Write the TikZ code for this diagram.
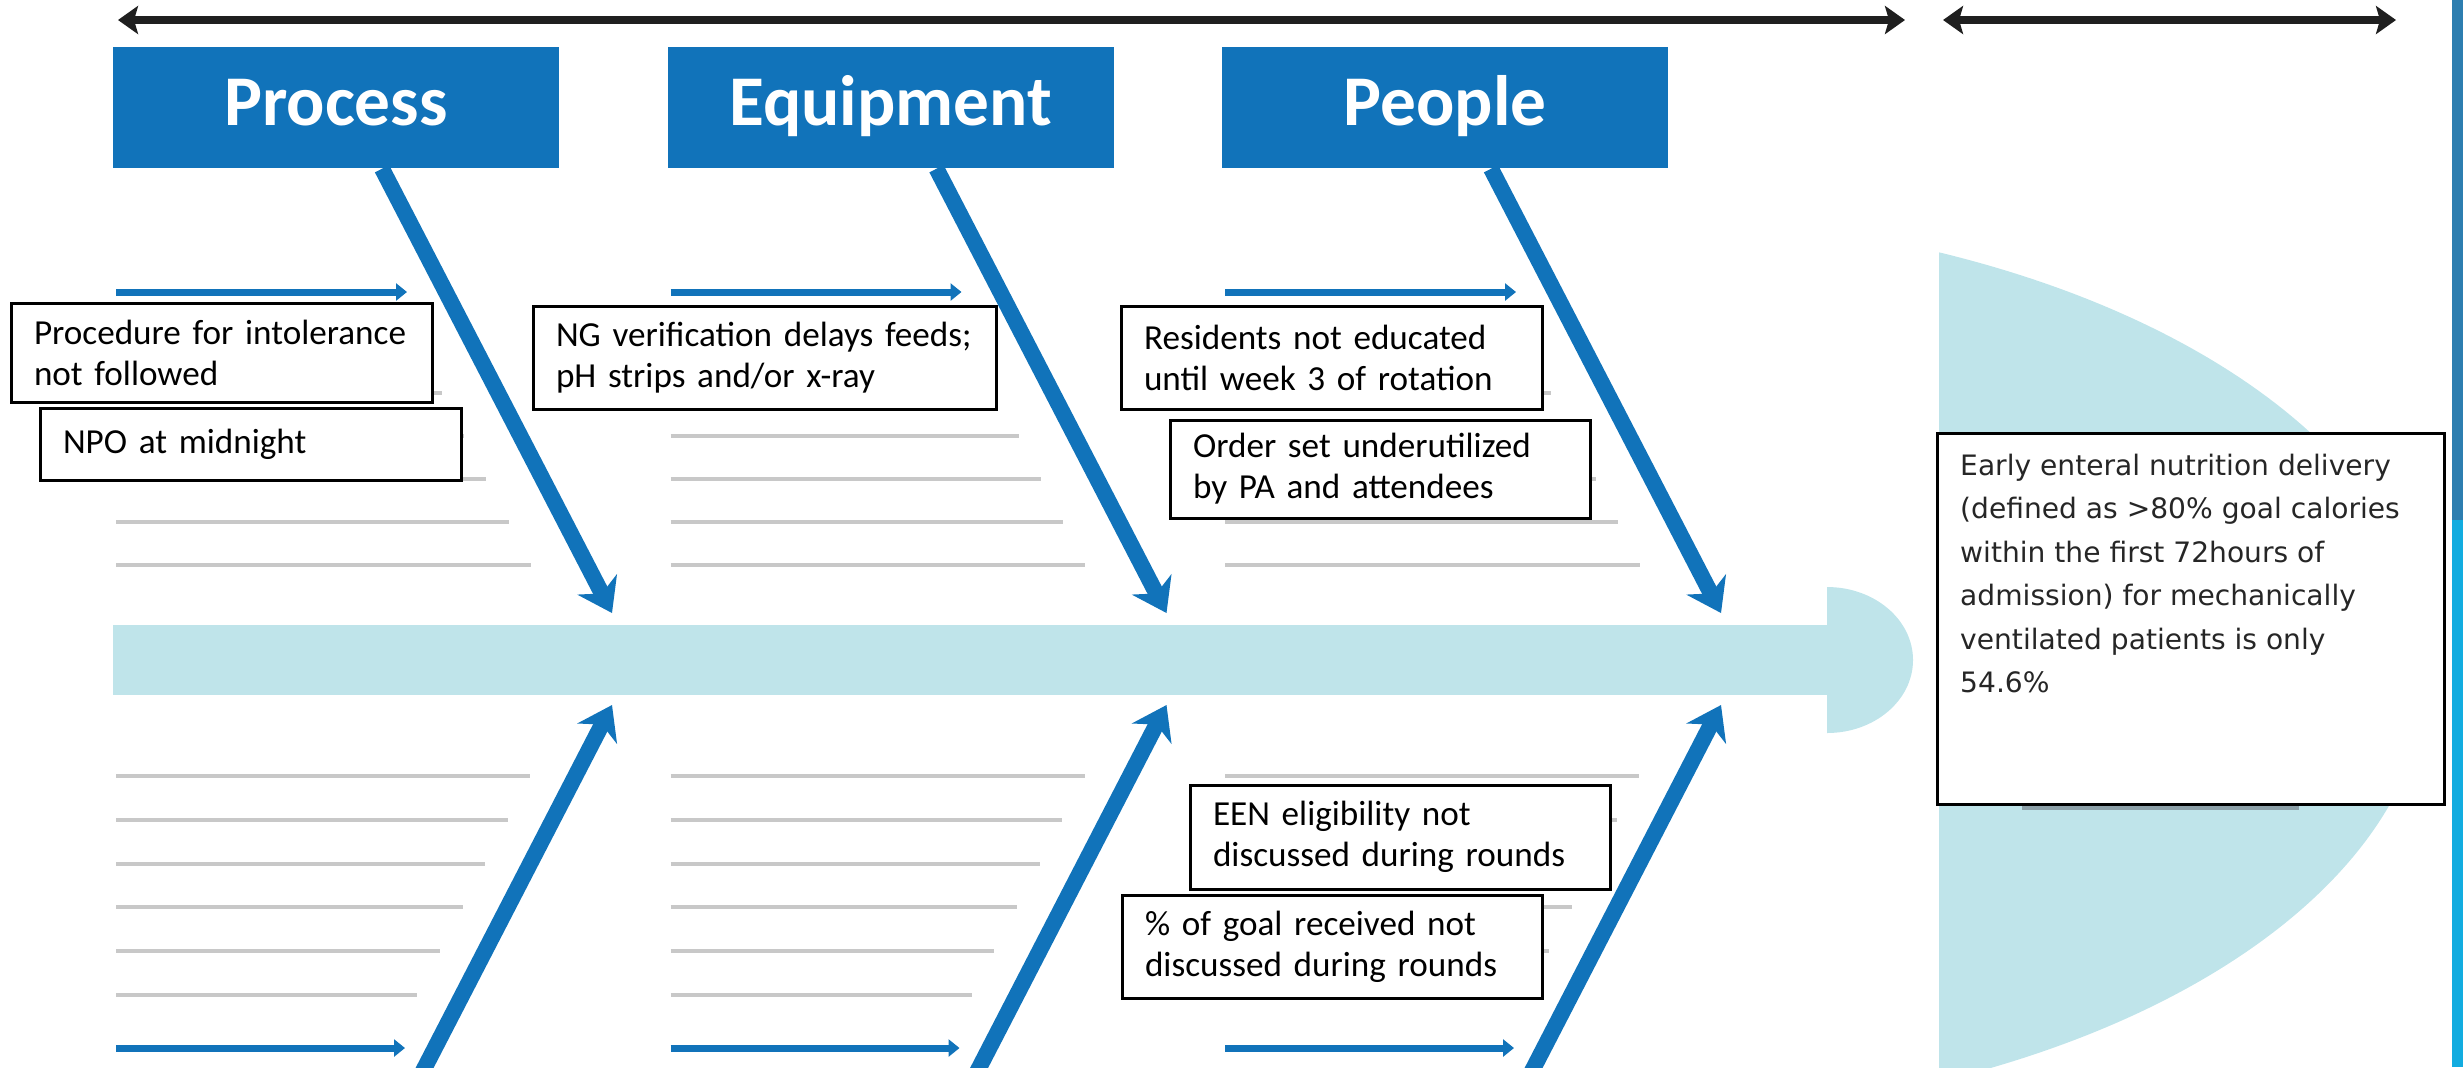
\documentclass[tikz,border=0pt]{standalone}
\usepackage{fontspec}
\setmainfont{Carlito}
\newfontfamily\effectfont{DejaVu Sans}
\usepackage{xcolor}
\usepackage{tikz}
\usetikzlibrary{positioning,calc,arrows.meta}

\definecolor{catblue}{RGB}{17,115,186}
\definecolor{spineblue}{RGB}{191,228,234}
\definecolor{ribgray}{RGB}{200,200,200}
\definecolor{headrib}{RGB}{140,160,168}
\definecolor{stripdark}{RGB}{45,126,176}
\definecolor{striplight}{RGB}{18,172,224}

\tikzset{
  catbox/.style={fill=catblue, text=white, minimum width=4.46cm, minimum height=1.21cm,
    inner sep=0pt, text height=0.5cm, text depth=0.15cm,
    font=\fontsize{20.3}{24}\selectfont\bfseries},
  causebox/.style={draw=black, line width=0.03cm, fill=white, inner xsep=0.23cm,
    inner ysep=0pt, align=left, font=\fontsize{10}{11.7}\selectfont},
  effectbox/.style={draw=black, line width=0.03cm, fill=white},
  efftext/.style={inner sep=0pt, align=left, text=black!85,
    font=\effectfont\fontsize{8}{12.4}\selectfont},
  bone/.style={draw=catblue, line width=0.16cm,
    -{Stealth[length=0.32cm, width=0.44cm, inset=0.1cm]}},
  rib/.style={draw=ribgray, line width=0.04cm},
  twig/.style={draw=catblue, line width=0.07cm, -{Triangle[length=0.11cm, width=0.17cm]}},
  spanarrow/.style={draw=black!88, line width=0.08cm,
    {Stealth[length=0.2cm, width=0.28cm, inset=0.04cm]}-{Stealth[length=0.2cm, width=0.28cm, inset=0.04cm]}},
}

\begin{document}
\begin{tikzpicture}
    \clip (0,0) rectangle (24.63,-10.67);

    % Fish head
    \begin{scope}
        \clip (19.39,0) rectangle (24.63,-10.67);
        \fill[spineblue] (16.15,-6.67) ellipse [x radius=8.13, y radius=4.52];
    \end{scope}

    % Spine
    \fill[spineblue] (1.13,-6.25) rectangle (18.28,-6.95);
    \fill[spineblue] (18.27,-5.87) arc[start angle=90, end angle=-90, x radius=0.86, y radius=0.73];

    % Categories
    \node[catbox] (process) at (3.36,-1.075) {Process};
    \node[catbox] (equipment) at (8.905,-1.075) {Equipment};
    \node[catbox] (people) at (14.45,-1.075) {People};

    \foreach \cat/\dx in {process/0, equipment/5.545, people/11.09} {
        % ribs above and below the spine
        \foreach \k in {0,...,5}
            \draw[rib] ({1.16+\dx},{-3.50-0.43*\k}) -- ({3.26+0.516*(1.82+0.43*\k)+\dx},{-3.50-0.43*\k});
        \foreach \k in {0,...,5}
            \draw[rib] ({1.16+\dx},{-7.76-0.438*\k}) -- ({5.67-0.516*(0.71+0.438*\k)+\dx},{-7.76-0.438*\k});
        \draw[twig] ({1.16+\dx},-2.92) -- ({4.07+\dx},-2.92);
        \draw[twig] ({1.16+\dx},-10.48) -- ({4.05+\dx},-10.48);
        % bones
        \coordinate (\cat-up) at ({6.12+\dx},-6.13);
        \coordinate (\cat-low) at ({6.12+\dx},-7.05);
        \coordinate (\cat-foot) at ({4.08+\dx},-11.0);
        \draw[bone] ([xshift=0.46cm]\cat.south) -- (\cat-up);
        \draw[bone] (\cat-foot) -- (\cat-low);
    }

    % Causes
    \node[causebox, text width=3.75cm, minimum height=0.99cm] (proc1) at (2.215,-3.525) {Procedure for intolerance\\not followed};
    \node[causebox, text width=3.75cm, minimum height=0.72cm] (proc2) at (2.505,-4.44) {NPO at midnight};
    \node[causebox, text width=4.17cm, minimum height=1.03cm] (equip1) at (7.645,-3.575) {NG verification delays feeds;\\pH strips and/or x-ray};
    \node[causebox, text width=3.75cm, minimum height=1.03cm] (peop1) at (13.315,-3.575) {Residents not educated\\until week 3 of rotation};
    \node[causebox, text width=3.74cm, minimum height=0.98cm] (peop2) at (13.80,-4.69) {Order set underutilized\\by PA and attendees};
    \node[causebox, text width=3.74cm, minimum height=1.04cm] (peop3) at (14.00,-8.37) {EEN eligibility not\\discussed during rounds};
    \node[causebox, text width=3.74cm, minimum height=1.03cm] (peop4) at (13.32,-9.465) {\% of goal received not\\discussed during rounds};

    % Effect
    \draw[headrib, line width=0.05cm] (20.22,-8.07) -- (22.99,-8.07);
    \node[effectbox, minimum width=5.07cm, minimum height=3.71cm] (effect) at (21.905,-6.185) {};
    \node[efftext, anchor=north west] (efftext) at ([xshift=0.24cm, yshift=-0.215cm]effect.north west)
        {Early enteral nutrition delivery\\(defined as >80\% goal calories\\within the first 72hours of\\admission) for mechanically\\ventilated patients is only\\54.6\%};

    % Span arrows
    \coordinate (spanL) at (1.18,-0.20);
    \coordinate (spanR) at (19.05,-0.20);
    \coordinate (headL) at (19.43,-0.20);
    \coordinate (headR) at (23.96,-0.20);
    \draw[spanarrow] (spanL) -- (spanR);
    \draw[spanarrow] (headL) -- (headR);

    % Edge strip
    \fill[stripdark] (24.52,0) rectangle (24.63,-5.2);
    \fill[striplight] (24.52,-5.2) rectangle (24.63,-10.67);
\end{tikzpicture}
\end{document}
